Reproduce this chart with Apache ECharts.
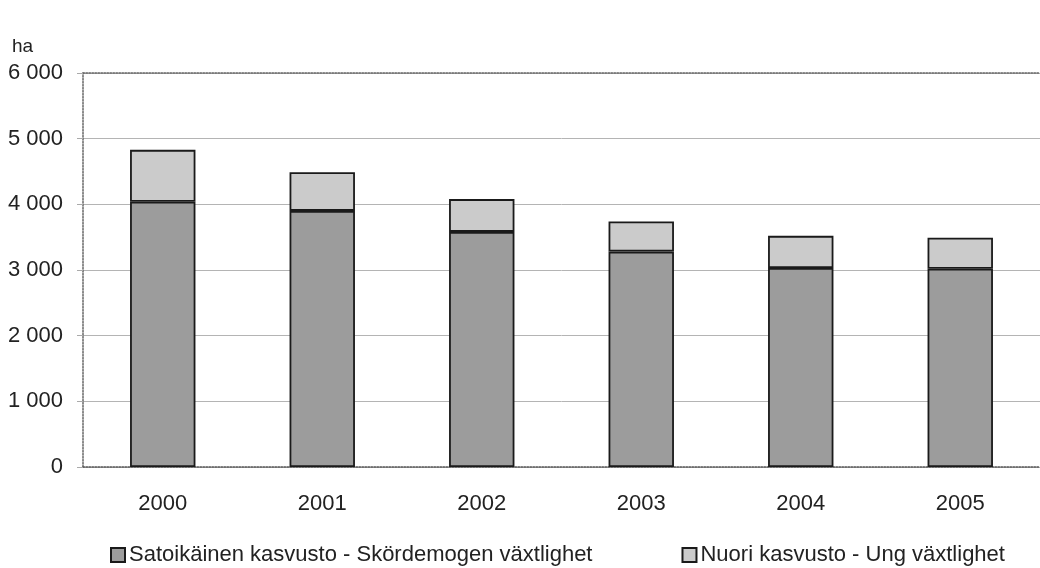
<!DOCTYPE html>
<html>
<head>
<meta charset="utf-8">
<script src="https://cdn.jsdelivr.net/npm/echarts@6/dist/echarts.min.js"></script>
<style>
html,body{margin:0;padding:0;background:#fff;}
#tu1{width:1040px;height:568px;}
</style>
</head>
<body>
<div id="tu1"></div>
<script>
// vuodet
var years = ['2000', '2001', '2002', '2003', '2004', '2005'];
// satoikäinen kasvusto
var mature = [4040, 3900, 3580, 3280, 3030, 3020];
// nuori kasvusto
var young = [790, 590, 500, 460, 490, 470];
var seriesNames = ['Satoikäinen kasvusto - Skördemogen växtlighet', 'Nuori kasvusto - Ung växtlighet'];

var myChart = echarts.init(document.getElementById('tu1'));
var font = 'Liberation Sans, Arial, sans-serif';
var option = {
    animation: false,
    textStyle: { fontFamily: font },
    title: {
        text: 'ha',
        left: 7,
        top: 32,
        textStyle: { fontSize: 19, fontWeight: 'normal', color: '#222', fontFamily: font }
    },
    legend: {
        top: 539,
        left: 105,
        itemGap: 89,
        itemWidth: 14,
        itemHeight: 14,
        icon: 'rect',
        textStyle: { fontSize: 22, color: '#222', fontFamily: font, padding: [0, 0, 0, -1] },
        data: seriesNames
    },
    grid: {
        left: 83,
        right: -7,
        top: 73,
        bottom: 101,
        containLabel: false
    },
    xAxis: [
        {
            type: 'category',
            data: years,
            axisTick: { show: false },
            axisLine: { lineStyle: { color: '#555', type: 'dotted', width: 1.5 } },
            axisLabel: { fontSize: 22, color: '#222', margin: 26, fontFamily: font }
        },
        {
            // yläreunan pisteviiva
            type: 'category',
            data: years,
            position: 'top',
            axisTick: { show: false },
            axisLabel: { show: false },
            axisLine: { lineStyle: { color: '#666', type: 'dotted', width: 1.5 } }
        }
    ],
    yAxis: {
        type: 'value',
        min: 0,
        max: 6000,
        interval: 1000,
        axisLine: { show: true, lineStyle: { color: '#666', type: 'dotted', width: 1.5 } },
        axisTick: { show: true, length: 6, lineStyle: { color: '#aaa' } },
        splitLine: { lineStyle: { color: '#b4b4b4', width: 1 } },
        axisLabel: {
            fontSize: 22,
            color: '#222',
            margin: 20,
            fontFamily: font,
            formatter: function (v) { return v >= 1000 ? Math.floor(v / 1000) + ' 000' : String(v); }
        }
    },
    series: [
        {
            name: seriesNames[0],
            type: 'bar',
            stack: 'total',
            barWidth: '41%',
            itemStyle: { color: '#9c9c9c', borderColor: '#1a1a1a', borderWidth: 1.8 },
            data: mature
        },
        {
            name: seriesNames[1],
            type: 'bar',
            stack: 'total',
            barWidth: '41%',
            itemStyle: { color: '#cbcbcb', borderColor: '#1a1a1a', borderWidth: 1.8 },
            data: young
        }
    ]
};
myChart.setOption(option);
</script>
</body>
</html>
